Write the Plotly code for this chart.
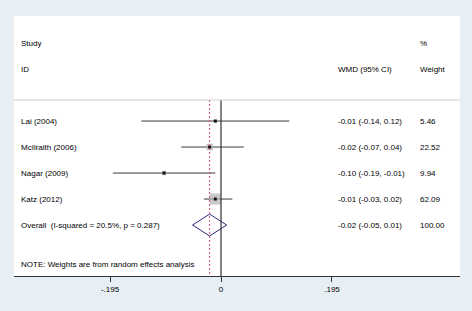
import plotly.graph_objects as go
import math

studies = ["Lai (2004)", "McIlraith (2006)", "Nagar (2009)", "Katz (2012)"]
est = [-0.01, -0.02, -0.10, -0.01]
lo = [-0.14, -0.07, -0.19, -0.03]
hi = [0.12, 0.04, -0.01, 0.02]
weights = [5.46, 22.52, 9.94, 62.09]
wmd_text = ["-0.01 (-0.14, 0.12)", "-0.02 (-0.07, 0.04)", "-0.10 (-0.19, -0.01)", "-0.01 (-0.03, 0.02)"]
weight_text = ["5.46", "22.52", "9.94", "62.09"]
overall_label = "Overall  (I-squared = 20.5%, p = 0.287)"
overall_est, overall_lo, overall_hi = -0.02, -0.05, 0.01
overall_wmd = "-0.02 (-0.05, 0.01)"
overall_weight = "100.00"
tick_vals = [-0.195, 0, 0.195]
tick_labels = ["-.195", "0", ".195"]

FONT = "Liberation Sans, Arial, sans-serif"
fig = go.Figure()
rows = list(range(1, len(studies) + 1))

# CI lines
for i, (l, h) in enumerate(zip(lo, hi)):
    fig.add_trace(go.Scatter(x=[l, h], y=[rows[i], rows[i]], mode="lines",
                             line=dict(color="#3a3a3a", width=1), hoverinfo="skip", showlegend=False))
# weight boxes
fig.add_trace(go.Scatter(x=est, y=rows, mode="markers",
                         marker=dict(symbol="square", size=[1.4 * math.sqrt(w) for w in weights],
                                     color="#b4b4b4", line=dict(width=0)),
                         showlegend=False))
# point dots
fig.add_trace(go.Scatter(x=est, y=rows, mode="markers",
                         marker=dict(symbol="square", size=3, color="#111111"), showlegend=False))
# overall diamond
yo = len(studies) + 1
fig.add_trace(go.Scatter(x=[overall_lo, overall_est, overall_hi, overall_est, overall_lo],
                         y=[yo, yo - 0.42, yo, yo + 0.42, yo], mode="lines",
                         line=dict(color="#2b2b7e", width=1), showlegend=False))

# vertical lines
fig.add_shape(type="line", x0=0, x1=0, y0=0.19, y1=6.96, line=dict(color="#333333", width=1.2))
fig.add_shape(type="line", x0=overall_est, x1=overall_est, y0=0.19, y1=6.96,
              line=dict(color="#d04a68", width=1, dash="2px,2px"))
# header separator
fig.add_shape(type="line", xref="paper", x0=0, x1=1, y0=0.19, y1=0.19, line=dict(color="#cfcfcf", width=1))

def txt(x, y, s):
    fig.add_annotation(x=x, y=y, xref="paper", yref="y", text=s, showarrow=False,
                       xanchor="left", yanchor="middle", font=dict(size=8, color="#000000", family=FONT))

xs, xw, xp = 0.011, 0.722, 0.906
txt(xs, -2, "Study")
txt(xs, -1, "ID")
txt(xw, -1, "WMD (95% CI)")
txt(xp, -2, "%")
txt(xp, -1, "Weight")
for i, s in enumerate(studies):
    txt(xs, rows[i], s)
    txt(xw, rows[i], wmd_text[i])
    txt(xp, rows[i], weight_text[i])
txt(xs, yo, overall_label)
txt(xw, yo, overall_wmd)
txt(xp, yo, overall_weight)
txt(xs, 6.5, "NOTE: Weights are from random effects analysis")

fig.update_layout(
    width=472, height=311,
    margin=dict(l=14, r=12, t=16, b=35),
    paper_bgcolor="#e8eff4", plot_bgcolor="white",
    showlegend=False,
    xaxis=dict(range=[-0.3637, 0.4199], showgrid=False, zeroline=False, showline=True,
               linecolor="#333333", linewidth=1.2, ticks="outside", ticklen=5, tickcolor="#333333",
               tickvals=tick_vals, ticktext=tick_labels,
               tickfont=dict(size=8, color="#000000", family=FONT), fixedrange=True),
    yaxis=dict(range=[6.96, -3.04], showgrid=False, zeroline=False, showticklabels=False,
               showline=False, fixedrange=True),
)
fig.write_html("out.html", config=dict(displayModeBar=False),
               post_script="document.body.style.margin='0';document.body.style.background='#e8eff4';")
